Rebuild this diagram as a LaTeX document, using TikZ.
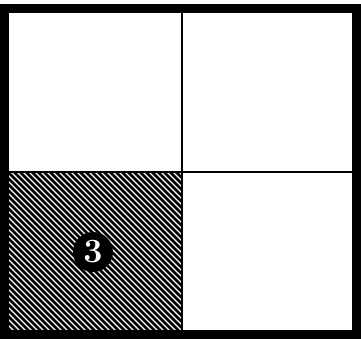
\documentclass[tikz,border=0pt]{standalone}
\usepackage{tikz}
\usetikzlibrary{positioning}
\definecolor{Ink}{HTML}{000000}
\tikzset{
  frame/.style={Ink,line width=9pt},
  divider/.style={Ink,line width=2pt},
  hatch/.style={Ink,line width=2.6pt},
  marker/.style={circle,fill=Ink,text=white,inner sep=0pt,minimum size=40pt,
    font=\fontsize{34}{34}\selectfont\bfseries}
}
\begin{document}
\begin{tikzpicture}[x=1pt,y=-1pt]
  \useasboundingbox (0,0) rectangle (361,339);
  % quadrants
  \coordinate (TL) at (4.5,9);
  \coordinate (BR) at (356.5,334.5);
  \coordinate (C) at (181.5,172);
  % hatched lower-left cell
  \begin{scope}
    \clip (9,172) rectangle (181.5,331);
    \foreach \i in {-170,-164,...,190}
      \draw[hatch] (\i,168) -- ++(170,170);
  \end{scope}
  \draw[divider] (C |- TL) -- (C |- BR);
  \draw[divider] (C -| TL) -- (C -| BR);
  \draw[frame] (TL) rectangle (BR);
  \node[marker] (three) at (93,252) {3};
\end{tikzpicture}
\end{document}
